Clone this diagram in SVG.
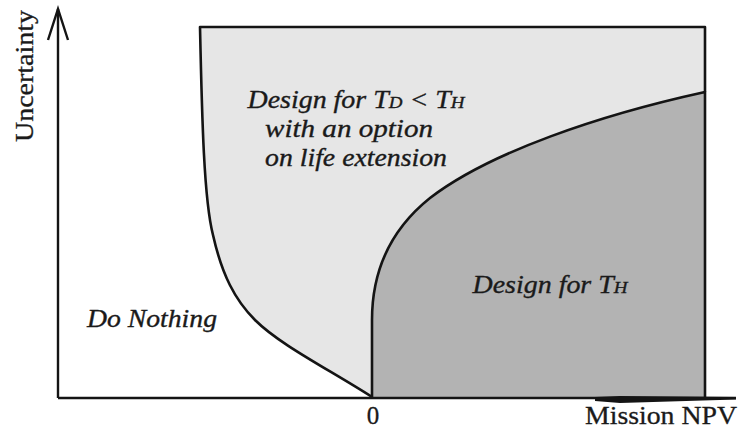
<svg xmlns="http://www.w3.org/2000/svg" width="740" height="428" viewBox="0 0 740 428">
<style>
.lbl{font-family:"Liberation Serif","Times New Roman",serif;font-style:italic;font-size:25px;fill:#1a1a1a;stroke:#1a1a1a;stroke-width:0.35;text-anchor:middle}
.ax{font-family:"Liberation Serif","Times New Roman",serif;font-size:25px;fill:#1a1a1a;stroke:#1a1a1a;stroke-width:0.3}
.edge{fill:none;stroke:#141414;stroke-width:2.6;stroke-linejoin:round}
.axis{fill:none;stroke:#141414;stroke-width:2.4}
</style>
<rect width="740" height="428" fill="#ffffff"/>
<g id="option-region">
<path d="M200,27 C202,120 204,200 213,235 C222,275 235,300 255,320 C280,345 330,370 372,397 L705,397 L705,27 Z" fill="#e6e6e6"/>
<path class="edge" d="M705,92 L705,27 L200,27 C202,120 204,200 213,235 C222,275 235,300 255,320 C280,345 330,370 372,397"/>
<text class="lbl" x="356" y="108" textLength="217" lengthAdjust="spacingAndGlyphs">Design for T<tspan font-size="17">D</tspan> &lt; T<tspan font-size="17">H</tspan></text>
<text class="lbl" x="349" y="137" textLength="168" lengthAdjust="spacingAndGlyphs">with an option</text>
<text class="lbl" x="356" y="166" textLength="182" lengthAdjust="spacingAndGlyphs">on life extension</text>
</g>
<g id="full-region">
<path d="M372,397 L372,320 C372,270 390,230 430,198 C490,152 600,115 705,92 L705,397 Z" fill="#b3b3b3"/>
<path class="edge" d="M372,397 L372,320 C372,270 390,230 430,198 C490,152 600,115 705,92 L705,397"/>
<text class="lbl" x="550" y="293" textLength="155" lengthAdjust="spacingAndGlyphs">Design for T<tspan font-size="17">H</tspan></text>
</g>
<g id="do-nothing">
<text class="lbl" x="152" y="327" textLength="130" lengthAdjust="spacingAndGlyphs">Do Nothing</text>
</g>
<g id="axes">
<line class="axis" x1="58" y1="398" x2="58" y2="9"/>
<polyline class="axis" points="48,40 58,9 68,40" stroke-linejoin="miter"/>
<line class="axis" x1="58" y1="398" x2="736" y2="398"/>
<polygon points="595,397 620,396 736,397 736,399.5 620,403 595,401" fill="#141414"/>
<text class="ax" x="373" y="424" text-anchor="middle">0</text>
<text class="ax" x="585" y="424" textLength="152" lengthAdjust="spacingAndGlyphs">Mission NPV</text>
<text class="ax" font-size="29" transform="translate(33,142) rotate(-90)" textLength="132" lengthAdjust="spacingAndGlyphs">Uncertainty</text>
</g>
</svg>
